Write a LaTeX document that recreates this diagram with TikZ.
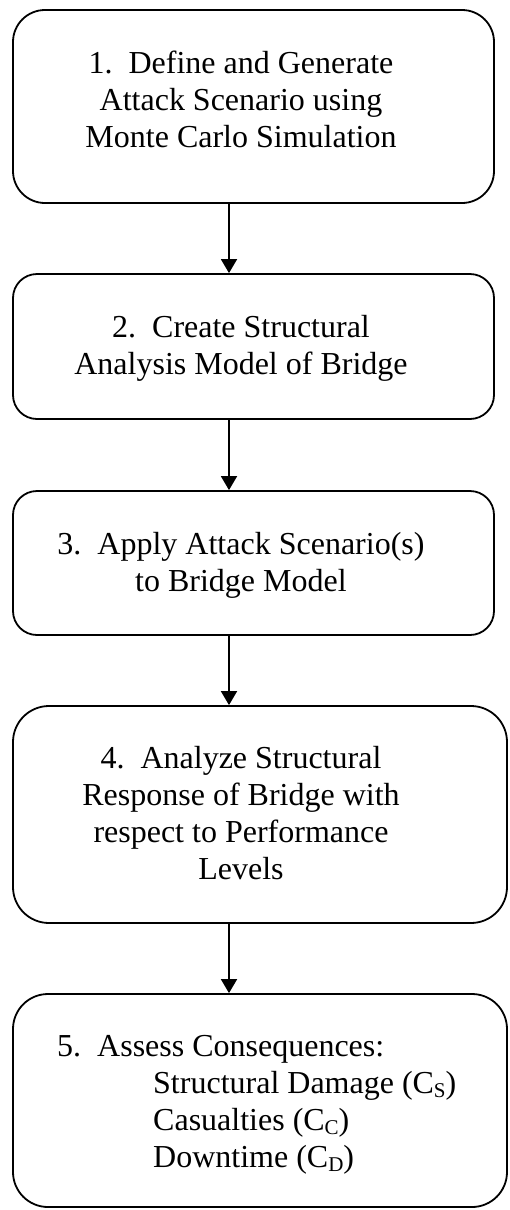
\documentclass[tikz,border=0pt]{standalone}
\usepackage{fontspec}
\setmainfont{Liberation Serif}
\usetikzlibrary{arrows.meta}
\newcommand{\lowsub}[1]{\raisebox{-4pt}{\fontsize{21}{21}\selectfont #1}}
\tikzset{
  stepbox/.style={draw=black, line width=1.8pt, rectangle, inner sep=0pt},
  steptext/.style={inner sep=0pt, align=center, font=\fontsize{32}{37}\selectfont},
  arr/.style={draw=black, line width=1.8pt, -{Triangle[width=16pt,length=14pt]}}
}
\begin{document}
\begin{tikzpicture}[x=1pt, y=-1pt]
\useasboundingbox (0,0) rectangle (509,1210);
\node[stepbox, minimum width=481pt, minimum height=193pt, rounded corners=32pt] (b1) at (253.5,106.5) {};
\node[stepbox, minimum width=481pt, minimum height=145pt, rounded corners=24pt] (b2) at (253.5,346.5) {};
\node[stepbox, minimum width=481pt, minimum height=144pt, rounded corners=24pt] (b3) at (253.5,563) {};
\node[stepbox, minimum width=494pt, minimum height=217pt, rounded corners=36pt] (b4) at (260,814.5) {};
\node[stepbox, minimum width=494pt, minimum height=213pt, rounded corners=35pt] (b5) at (260,1100.5) {};
\node[steptext] (t1) at (241,99.5) {1.\ \ Define and Generate\\Attack Scenario using\\Monte Carlo Simulation};
\node[steptext] (t2) at (241,348) {2.\ \ Create Structural\\Analysis Model of Bridge};
\node[steptext] (t3) at (241,565) {3.\ \ Apply Attack Scenario(s)\\to Bridge Model};
\node[steptext] (t4) at (241,813.5) {4.\ \ Analyze Structural\\Response of Bridge with\\respect to Performance\\Levels};
\node[steptext, align=left, anchor=west] (t5) at (57,1105) {5.\ \ Assess Consequences:\\\hspace*{96pt}Structural Damage (C\lowsub{S})\\\hspace*{96pt}Casualties (C\lowsub{C})\\\hspace*{96pt}Downtime (C\lowsub{D})};
\coordinate (ax) at (229,0);
\draw[arr] (ax |- b1.south) -- (ax |- b2.north);
\draw[arr] (ax |- b2.south) -- (ax |- b3.north);
\draw[arr] (ax |- b3.south) -- (ax |- b4.north);
\draw[arr] (ax |- b4.south) -- (ax |- b5.north);
\end{tikzpicture}
\end{document}
